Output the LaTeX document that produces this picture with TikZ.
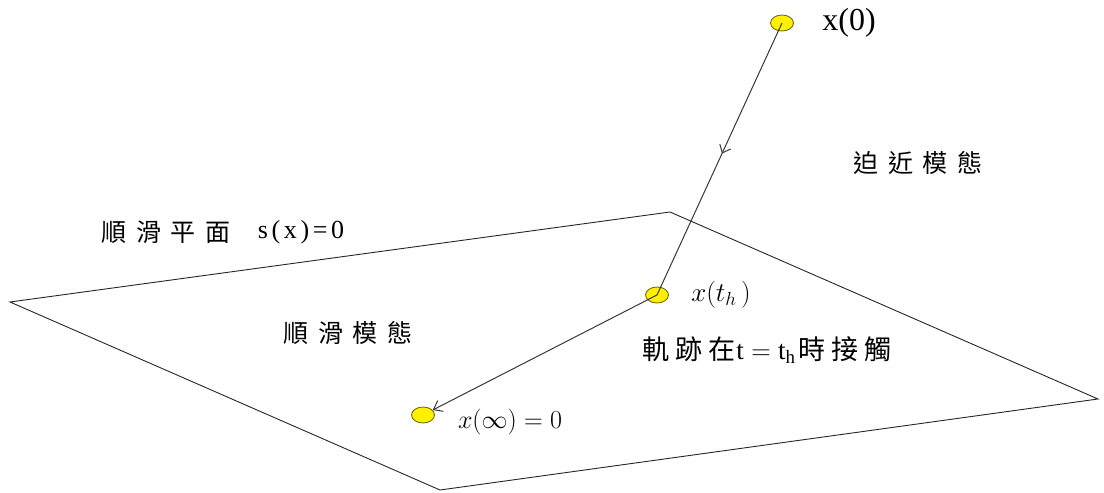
\RequirePackage{fix-cm}
\documentclass[tikz,border=0pt]{standalone}
\usepackage{fontspec}
\setmainfont{Liberation Serif}
\newfontfamily\cjk[LetterSpace=38]{Noto Sans CJK TC}
\newfontfamily\cjkn[LetterSpace=22]{Noto Sans CJK TC}
\newfontfamily\widelatin[LetterSpace=14]{Liberation Serif}
\usetikzlibrary{arrows.meta,decorations.markings,shapes.geometric}
\definecolor{dotfill}{RGB}{255,240,0}
\definecolor{dotdraw}{RGB}{110,110,20}
\definecolor{linegray}{RGB}{55,55,60}
\tikzset{
  dot/.style={ellipse, draw=dotdraw, fill=dotfill, line width=0.9pt, minimum width=23pt, minimum height=16pt, inner sep=0pt},
  plane/.style={draw=black!85, line width=0.9pt},
  traj/.style={draw=linegray, line width=1pt},
  lbl/.style={inner sep=0pt, anchor=center},
}
\begin{document}
\begin{tikzpicture}[x=1pt,y=-1pt]
\useasboundingbox (0,0) rectangle (1104,493);
% plane
\coordinate (pL) at (10,302);
\coordinate (pT) at (670,212);
\coordinate (pR) at (1098,399);
\coordinate (pB) at (440,490);
\draw[plane] (pL) -- (pT) -- (pR) -- (pB) -- cycle;
% points
\node[dot] (x0) at (782,23) {};
\node[dot] (xth) at (657,295) {};
\node[dot] (xinf) at (423,415) {};
% trajectory
\draw[traj, postaction={decorate}, decoration={markings, mark=at position 0.48 with {\arrow{Straight Barb[length=7pt,width=12pt,line width=1pt]}}}] (x0.center) -- (xth.center);
\draw[traj, -{Straight Barb[length=8pt,width=12pt,line width=1pt]}] (xth.center) -- (xinf);
% labels
\node[lbl, font=\fontsize{32}{34}\selectfont] (l0) at (849,23) {x(0)};
\node[lbl, font=\fontsize{27}{29}\selectfont] (lth) at (721,295) {$x(t_h\,)$};
\node[lbl, font=\fontsize{26}{28}\selectfont] (linf) at (510,422) {$x(\infty)=0$};
\node[lbl, font=\fontsize{27}{29}\selectfont] (lcontact) at (767,350) {{\cjkn 軌跡在}\hspace{1pt}$\mathrm{t}=\mathrm{t}_{\mathrm{h}}$\hspace{3pt}{\cjkn 時接觸}};
\node[lbl, font=\fontsize{25}{28}\selectfont] (lapp) at (918,163) {{\cjk 迫近模態}};
\node[lbl, font=\fontsize{25}{28}\selectfont] (lplane) at (166,232) {{\cjk 順滑平面}};
\node[lbl, font=\fontsize{26}{28}\selectfont] (lplaneeq) at (301,232) {{\widelatin s(x)=0}};
\node[lbl, font=\fontsize{25}{28}\selectfont] (lslide) at (348,333) {{\cjk 順滑模態}};
\end{tikzpicture}
\end{document}
